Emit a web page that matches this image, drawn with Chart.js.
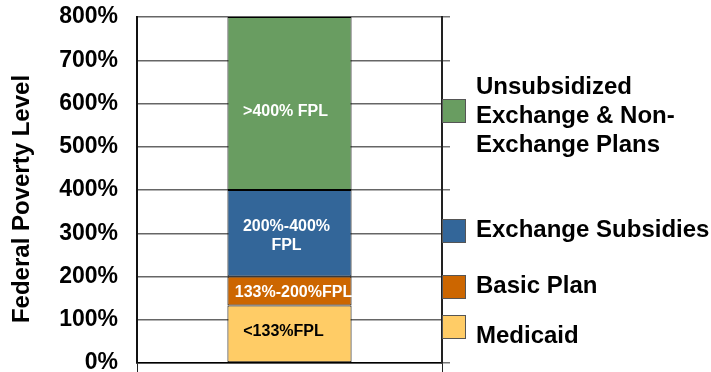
<!DOCTYPE html>
<html>
<head>
<meta charset="utf-8">
<script src="https://cdn.jsdelivr.net/npm/chart.js@4/dist/chart.umd.min.js"></script>
<style>
  body { margin: 0; background: #fff; }
  #wrap { width: 711px; height: 372px; }
</style>
</head>
<body>
<div id="wrap"><canvas id="fpl-chart" width="711" height="372"></canvas></div>
<script>
// data
const categories = [""];
const planNames = ["Medicaid", "Basic Plan", "Exchange Subsidies", "Unsubsidized Exchange & Non-Exchange Plans"];
const legendLines = [["Medicaid"], ["Basic Plan"], ["Exchange Subsidies"], ["Unsubsidized", "Exchange & Non-", "Exchange Plans"]];
const segmentHeights = [133, 67, 200, 400]; // % FPL covered by each band, stacked from 0
const segmentLabels = [["<133%FPL"], ["133%-200%FPL"], ["200%-400%", "FPL"], [">400% FPL"]];
const yTicks = [0, 100, 200, 300, 400, 500, 600, 700, 800];

const colors = ["#FFCC66", "#CC6600", "#336699", "#699D61"];
const labelColors = ["#000", "#fff", "#fff", "#fff"];
const FONT = "'Liberation Sans', Arial, sans-serif";

// hand placement of labels/legend (styling only)
const labelNudge = [[-6, -2], [4, 2], [-3, 3], [-4, 8]];
const legendBoxY = [327, 287, 231, 111];
const legendTextY = [336, 286, 230, 87];

const overlay = {
  id: "overlay",
  afterDatasetsDraw(chart) {
    const ctx = chart.ctx;
    ctx.save();
    ctx.font = "bold 16px " + FONT;
    ctx.textAlign = "center";
    ctx.textBaseline = "middle";
    chart.data.datasets.forEach((ds, i) => {
      const el = chart.getDatasetMeta(i).data[0];
      const lines = segmentLabels[i];
      const cy = (el.y + el.base) / 2 + labelNudge[i][1];
      ctx.fillStyle = labelColors[i];
      lines.forEach((t, k) => {
        ctx.fillText(t, el.x + labelNudge[i][0], cy + (k - (lines.length - 1) / 2) * 19);
      });
    });
    ctx.restore();
  },
  afterDraw(chart) {
    const ctx = chart.ctx;
    ctx.save();
    // y axis title
    ctx.font = "bold 24px " + FONT;
    ctx.fillStyle = "#000";
    ctx.textAlign = "center";
    ctx.textBaseline = "middle";
    ctx.translate(22, 199);
    ctx.rotate(-Math.PI / 2);
    ctx.fillText("Federal Poverty Level", 0, 0);
    ctx.restore();

    // legend
    ctx.save();
    const x0 = chart.chartArea.right;
    chart.data.datasets.forEach((ds, i) => {
      ctx.fillStyle = ds.backgroundColor;
      ctx.fillRect(x0, legendBoxY[i] - 12, 24, 24);
      ctx.strokeStyle = "#555";
      ctx.lineWidth = 1;
      ctx.strokeRect(x0 + 0.5, legendBoxY[i] - 11.5, 23, 23);
      ctx.font = "bold 24px " + FONT;
      ctx.fillStyle = "#000";
      ctx.textAlign = "left";
      ctx.textBaseline = "middle";
      legendLines[i].forEach((t, k) => ctx.fillText(t, x0 + 34, legendTextY[i] + k * 29));
    });
    ctx.restore();
  }
};

new Chart(document.getElementById("fpl-chart"), {
  type: "bar",
  data: {
    labels: categories,
    datasets: planNames.map((name, i) => ({
      label: name,
      data: [segmentHeights[i]],
      backgroundColor: colors[i],
      borderColor: "#000",
      borderWidth: 1,
      borderSkipped: false,
      barPercentage: 1,
      categoryPercentage: 0.407
    }))
  },
  options: {
    responsive: false,
    animation: false,
    layout: { padding: { top: 17, right: 261, bottom: 0, left: 0 } },
    plugins: { legend: { display: false }, tooltip: { enabled: false } },
    scales: {
      x: {
        stacked: true,
        offset: true,
        afterFit(scale) { scale.height = 9; scale.paddingTop = 0; scale.paddingBottom = 0; },
        ticks: { display: false },
        grid: { display: true, drawOnChartArea: false, tickLength: 9, color: "#222", offset: true },
        border: { display: true, color: "#000", width: 1.5 }
      },
      y: {
        stacked: true,
        position: "left",
        min: 0,
        max: 800,
        afterFit(scale) { scale.width = 137; scale.paddingTop = 0; scale.paddingBottom = 0; },
        afterBuildTicks(scale) { scale.ticks = yTicks.map(v => ({ value: v })); },
        ticks: {
          padding: 19,
          color: "#000",
          font: { family: FONT, size: 23, weight: "bold" },
          callback: v => v + "%"
        },
        grid: { color: "#666", lineWidth: 1.5, drawTicks: false },
        border: { display: true, color: "#111", width: 2 }
      },
      y2: {
        position: "right",
        min: 0,
        max: 800,
        afterFit(scale) { scale.width = 8; scale.paddingTop = 0; scale.paddingBottom = 0; },
        afterBuildTicks(scale) { scale.ticks = yTicks.map(v => ({ value: v })); },
        ticks: { display: false },
        grid: { drawOnChartArea: false, tickLength: 8, color: "#777", lineWidth: 1.5 },
        border: { display: true, color: "#222", width: 2 }
      }
    }
  },
  plugins: [overlay]
});
</script>
</body>
</html>
